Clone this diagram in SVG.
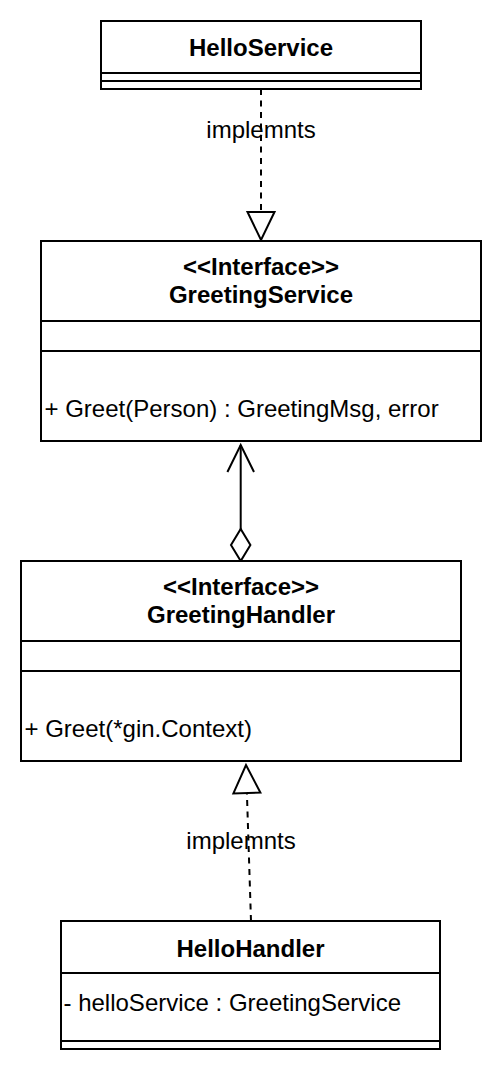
<svg xmlns="http://www.w3.org/2000/svg" width="502" height="1072" viewBox="0 0 502 1072">
<style>
.box{fill:#fff;stroke:#000;stroke-width:2}
.sep{stroke:#000;stroke-width:2;fill:none}
.t{font-family:"Liberation Sans",Arial,Helvetica,sans-serif;font-size:24px;fill:#000}
.b{font-weight:bold;text-anchor:middle}
.c{text-anchor:middle}
.edge{stroke:#000;stroke-width:2;fill:none}
.dash{stroke-dasharray:6 5.5}
</style>
<defs>
<marker id="realize" markerUnits="userSpaceOnUse" viewBox="0 0 30 30" markerWidth="30" markerHeight="30" refX="29" refY="15" orient="auto" overflow="visible">
<path d="M1,1.5 L29,15 L1,28.5 Z" fill="#fff" stroke="#000" stroke-width="2"/>
</marker>
<marker id="open" markerUnits="userSpaceOnUse" viewBox="0 0 30 30" markerWidth="30" markerHeight="30" refX="28" refY="15" orient="auto" overflow="visible">
<path d="M1,1.7 L28,15 L1,28.3" fill="none" stroke="#000" stroke-width="2"/>
</marker>
<marker id="diamond" markerUnits="userSpaceOnUse" viewBox="0 0 34 22" markerWidth="34" markerHeight="22" refX="1" refY="11" orient="auto" overflow="visible">
<path d="M1,11 L17,1.3 L33,11 L17,20.7 Z" fill="#fff" stroke="#000" stroke-width="2"/>
</marker>
</defs>
<g id="connectors">
<line class="edge dash" x1="261" y1="89" x2="261" y2="240" marker-end="url(#realize)"/>
<text class="t c" x="261" y="138.3">implemnts</text>
<line class="edge" x1="240.7" y1="561" x2="240.7" y2="445" marker-start="url(#diamond)" marker-end="url(#open)"/>
<line class="edge dash" x1="251" y1="921" x2="246" y2="765" marker-end="url(#realize)"/>
<text class="t c" x="241" y="849.3">implemnts</text>
</g>
<g id="HelloService">
<rect class="box" x="101" y="21" width="320" height="68"/>
<line class="sep" x1="101" y1="73" x2="421" y2="73"/>
<line class="sep" x1="101" y1="81" x2="421" y2="81"/>
<text class="t b" x="261" y="55.7">HelloService</text>
</g>
<g id="GreetingService">
<rect class="box" x="41" y="241" width="440" height="200"/>
<line class="sep" x1="41" y1="321" x2="481" y2="321"/>
<line class="sep" x1="41" y1="351" x2="481" y2="351"/>
<text class="t b" x="261" y="275.3">&lt;&lt;Interface&gt;&gt;</text>
<text class="t b" x="261" y="303">GreetingService</text>
<text class="t" x="44.5" y="416.7">+ Greet(Person) : GreetingMsg, error</text>
</g>
<g id="GreetingHandler">
<rect class="box" x="21" y="561" width="440" height="200"/>
<line class="sep" x1="21" y1="641" x2="461" y2="641"/>
<line class="sep" x1="21" y1="671" x2="461" y2="671"/>
<text class="t b" x="241" y="595.3">&lt;&lt;Interface&gt;&gt;</text>
<text class="t b" x="241" y="623">GreetingHandler</text>
<text class="t" x="24.5" y="736.7">+ Greet(*gin.Context)</text>
</g>
<g id="HelloHandler">
<rect class="box" x="61" y="921" width="379" height="128"/>
<line class="sep" x1="61" y1="973" x2="440" y2="973"/>
<line class="sep" x1="61" y1="1041" x2="440" y2="1041"/>
<text class="t b" x="250.5" y="956.7">HelloHandler</text>
<text class="t" x="63.5" y="1010.5">- helloService : GreetingService</text>
</g>
</svg>
